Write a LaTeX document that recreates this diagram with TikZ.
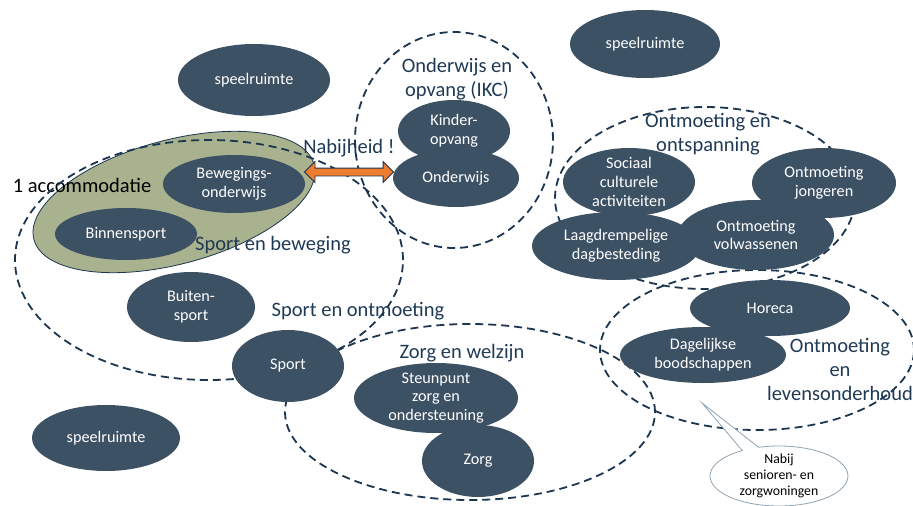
\documentclass[tikz,border=0pt]{standalone}
\usepackage{fontspec}
\setmainfont{Carlito}
\usetikzlibrary{shapes.geometric,shapes.callouts,shapes.arrows}
\definecolor{nodefill}{HTML}{3D5164}
\definecolor{dashcol}{HTML}{1C3550}
\definecolor{lblcol}{HTML}{1F3A56}
\definecolor{greenfill}{HTML}{A9B28E}
\definecolor{arroworange}{HTML}{ED7D31}
\definecolor{callcol}{HTML}{8FA3B3}
\begin{document}
\begin{tikzpicture}[x=1pt,y=-1pt,
  blob/.style={ellipse, fill=nodefill, text=white, inner sep=-5pt, align=center,
    font=\fontsize{16.2}{18.8}\selectfont},
  grp/.style={ellipse, draw=dashcol, line width=1.8pt, dash pattern=on 8pt off 5pt, inner sep=0pt},
  lbl/.style={text=lblcol, align=center, inner sep=0pt, font=\fontsize{20.5}{24}\selectfont}]
\useasboundingbox (0,0) rectangle (913,506);

% accommodation
\node[ellipse, draw=dashcol, line width=0.8pt, fill=greenfill, rotate=15,
  minimum width=290pt, minimum height=124pt, inner sep=0pt] (accom) at (174,202) {};

% labels
\node[lbl] (londerwijs) at (457,79) {Onderwijs en\\opvang (IKC)};
\node[lbl, text=black] (laccom) at (82,185) {1 accommodatie};
\node[lbl] (lsportbew) at (273,245) {Sport en beweging};
\node[lbl] (lsportont) at (358,311) {Sport en ontmoeting};
\node[lbl] (lzorg) at (462,353) {Zorg en welzijn};
\node[lbl] (lontsp) at (708,134) {Ontmoeting en\\ontspanning};
\node[lbl] (llevens) at (840,369) {Ontmoeting\\en\\levensonderhoud};
\node[lbl] (lnabij) at (349,148) {Nabijheid !};

% dashed groups
\node[grp, minimum width=388pt, minimum height=240pt] (gsport) at (209,260) {};
\node[grp, minimum width=198pt, minimum height=216pt] (gikc) at (454,140) {};
\node[grp, minimum width=300pt, minimum height=182pt] (gontsp) at (705,198) {};
\node[grp, minimum width=314pt, minimum height=160pt] (glevens) at (757,350) {};
\node[grp, minimum width=370pt, minimum height=176pt] (gzorg) at (470,412) {};

% dark nodes
\node[blob, minimum width=152pt, minimum height=72pt] (speel1) at (254,80) {speelruimte};
\node[blob, minimum width=150pt, minimum height=68pt] (speel2) at (645,44) {speelruimte};
\node[blob, minimum width=148pt, minimum height=66pt] (speel3) at (106,438) {speelruimte};
\node[blob, minimum width=112pt, minimum height=62pt] (kinder) at (454,131) {Kinder-\\opvang};
\node[blob, minimum width=126pt, minimum height=58pt] (onderwijs) at (456,178) {Onderwijs};
\node[blob, minimum width=142pt, minimum height=58pt] (bew) at (234,184) {Bewegings-\\onderwijs};
\node[blob, minimum width=142pt, minimum height=52pt] (binnen) at (126,234) {Binnensport};
\node[blob, minimum width=128pt, minimum height=70pt] (buiten) at (191,307) {Buiten-\\sport};
\node[blob, minimum width=112pt, minimum height=72pt] (sport) at (288,366) {Sport};
\node[blob, minimum width=164pt, minimum height=70pt] (steun) at (436,398) {Steunpunt\\zorg en\\ondersteuning};
\node[blob, minimum width=112pt, minimum height=72pt] (zorg) at (478,461) {Zorg};
\node[blob, minimum width=132pt, minimum height=68pt] (sociaal) at (629,182) {Sociaal\\culturele\\activiteiten};
\node[blob, minimum width=144pt, minimum height=70pt] (jong) at (824,183) {Ontmoeting\\jongeren};
\node[blob, minimum width=168pt, minimum height=68pt] (laag) at (616,246) {Laagdrempelige\\dagbesteding};
\node[blob, minimum width=156pt, minimum height=70pt] (volw) at (756,235) {Ontmoeting\\volwassenen};
\node[blob, minimum width=160pt, minimum height=56pt] (horeca) at (770,308) {Horeca};
\node[blob, minimum width=166pt, minimum height=56pt] (dagel) at (703,355) {Dagelijkse\\boodschappen};

% Nabijheid arrow
\node[double arrow, draw=dashcol, line width=0.8pt, fill=arroworange,
  minimum height=89pt, minimum width=20pt, double arrow head extend=6.5pt,
  inner sep=3.5pt] (nabarrow) at (349,172) {};

% callout
\coordinate (ptr) at (702,403);
\node[ellipse callout, draw=callcol, line width=0.8pt, fill=white,
  callout absolute pointer={(ptr)}, minimum width=138pt, minimum height=60pt,
  inner sep=-2pt, align=center, font=\fontsize{13.8}{16}\selectfont] (bubble) at (779,476)
  {Nabij\\senioren- en\\zorgwoningen};
\end{tikzpicture}
\end{document}
